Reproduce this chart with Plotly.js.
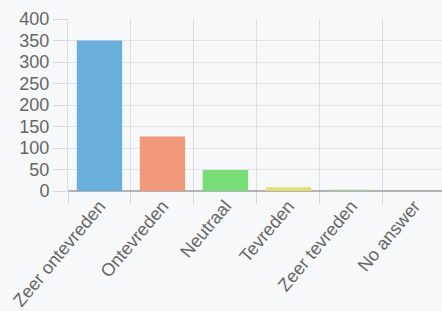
<!DOCTYPE html>
<html>
<head>
<meta charset="utf-8">
<script src="https://cdn.plot.ly/plotly-3.0.1.min.js"></script>
<style>html,body{margin:0;padding:0;background:#f7f8fa;}#chart{width:442px;height:311px;}</style>
</head>
<body>
<div id="chart"></div>
<script>
var categories = ["Zeer ontevreden", "Ontevreden", "Neutraal", "Tevreden", "Zeer tevreden", "No answer"];
var counts = [350, 127, 49, 9, 3, 0];
var barColors = ["#6aaedc", "#f0997b", "#77dd77", "#e3df73", "#a8c4a4", "#c0c0c0"];

var trace = {
  type: "bar",
  x: categories,
  y: counts,
  marker: {color: barColors, line: {width: 0}},
  hoverinfo: "none"
};

var layout = {
  width: 442,
  height: 311,
  margin: {l: 68, r: 0, t: 19, b: 120},
  paper_bgcolor: "#f7f8fa",
  plot_bgcolor: "#f7f8fa",
  bargap: 0.28,
  showlegend: false,
  font: {family: "Liberation Sans, Arial, sans-serif", color: "#666"},
  xaxis: {
    type: "category",
    range: [-0.5, 5.44],
    tickson: "boundaries",
    ticks: "outside",
    ticklen: 12,
    tickcolor: "rgba(0,0,0,0.12)",
    showgrid: true,
    gridcolor: "rgba(0,0,0,0.1)",
    tickangle: -50,
    tickfont: {size: 18, color: "#666"},
    showline: false,
    zeroline: false
  },
  yaxis: {
    range: [0, 400],
    dtick: 50,
    ticks: "outside",
    ticklen: 14,
    tickcolor: "rgba(0,0,0,0.12)",
    showgrid: true,
    gridcolor: "rgba(0,0,0,0.08)",
    zeroline: true,
    zerolinecolor: "rgba(0,0,0,0.28)",
    zerolinewidth: 1.5,
    tickfont: {size: 18, color: "#666"},
    ticklabelstandoff: 0,
    showline: true,
    linecolor: "rgba(0,0,0,0.1)"
  }
};

Plotly.newPlot("chart", [trace], layout, {displayModeBar: false, staticPlot: true});
</script>
</body>
</html>
